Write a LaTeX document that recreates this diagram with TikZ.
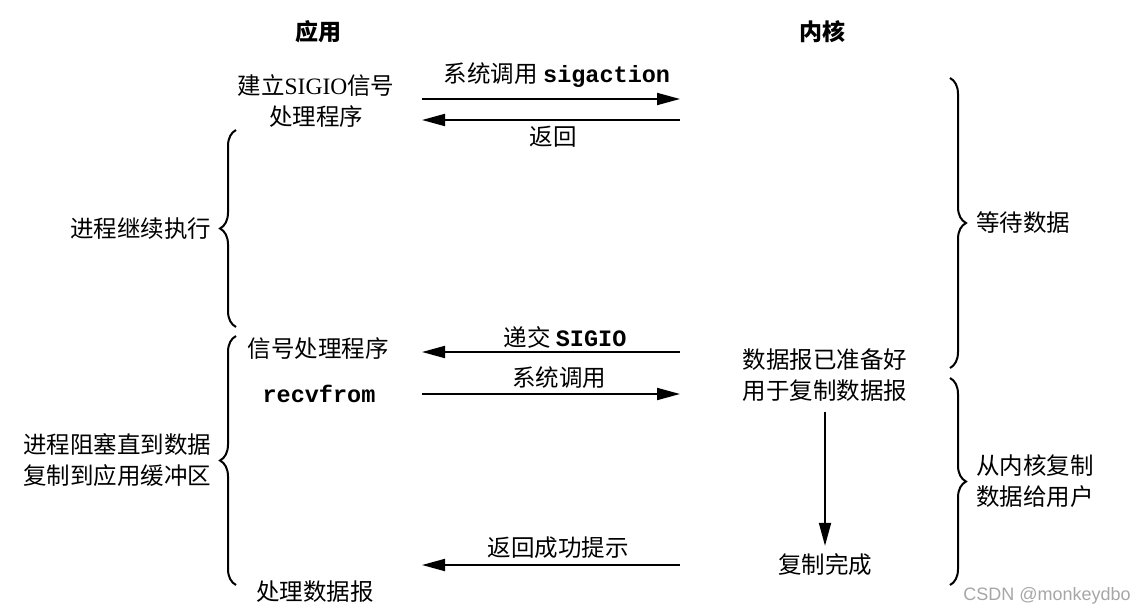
\documentclass[tikz,border=0pt]{standalone}
\usepackage{fontspec}
\setmainfont{Liberation Serif}
\setmonofont{Liberation Mono}
\setsansfont{Liberation Sans}
\newfontfamily\cjk{Noto Sans CJK SC}
\usetikzlibrary{arrows.meta,decorations.pathreplacing}
\newcommand{\mono}[1]{\textbf{\texttt{#1}}}

\begin{document}
\begin{tikzpicture}[x=1pt,y=-1pt,
   txt/.style={font=\cjk\fontsize{23.5}{31}\selectfont,inner sep=0pt,align=center},
   msg/.style={line width=1.9pt,-{Triangle[length=23pt,width=12pt]}},
   brc/.style={decorate,decoration={brace,amplitude=16pt},line width=2pt}]
   \useasboundingbox (0,0) rectangle (1147,613);
   % columns
   \node[txt,font=\cjk\bfseries\fontsize{23}{31}\selectfont] (app) at (318,32) {应用};
   \node[txt,font=\cjk\bfseries\fontsize{23}{31}\selectfont] (kern) at (822,32) {内核};
   % application side
   \node[txt] (setup) at (316,101) {建立\textrm{SIGIO}信号\\处理程序};
   \node[txt] (handler) at (318,349) {信号处理程序};
   \node[txt] (recv) at (319,394) {\mono{recvfrom}};
   \node[txt] (proc) at (315,592) {处理数据报};
   % kernel side
   \node[txt] (ready) at (825,375) {数据报已准备好\\用于复制数据报};
   \node[txt] (done) at (825,565) {复制完成};
   \draw[msg,shorten <=10pt,shorten >=8pt] (ready) -- (done);
   % messages
   \coordinate (a1) at (422,99);  \coordinate (k1) at (680,99);
   \coordinate (a2) at (422,120); \coordinate (k2) at (680,120);
   \coordinate (a3) at (422,352); \coordinate (k3) at (680,352);
   \coordinate (a4) at (422,394); \coordinate (k4) at (680,394);
   \coordinate (a5) at (422,565); \coordinate (k5) at (680,565);
   \draw[msg] (a1) -- (k1);
   \draw[msg] (k2) -- (a2);
   \draw[msg] (k3) -- (a3);
   \draw[msg] (a4) -- (k4);
   \draw[msg] (k5) -- (a5);
   \node[txt] (l1) at (557,75) {系统调用 \mono{sigaction}};
   \node[txt] (l2) at (553,137) {返回};
   \node[txt] (l3) at (565,337) {递交 \mono{SIGIO}};
   \node[txt] (l4) at (559,378) {系统调用};
   \node[txt] (l5) at (558,548) {返回成功提示};
   % braces
   \draw[brc] (236,327) -- (236,130) node[txt,midway,left=24pt] (goon) {进程继续执行};
   \draw[brc] (236,585) -- (236,336) node[txt,midway,left=24pt] (block) {进程阻塞直到数据\\复制到应用缓冲区};
   \draw[brc] (950,78) -- (950,368) node[txt,midway,right=25pt] (wait) {等待数据};
   \draw[brc] (950,378) -- (950,585) node[txt,midway,right=25pt] (copy) {从内核复制\\数据给用户};
   \node[font=\sffamily\fontsize{18}{18}\selectfont,text=gray!70,inner sep=0pt] (mark) at (1047,596) {CSDN @monkeydbo};
\end{tikzpicture}
\end{document}
